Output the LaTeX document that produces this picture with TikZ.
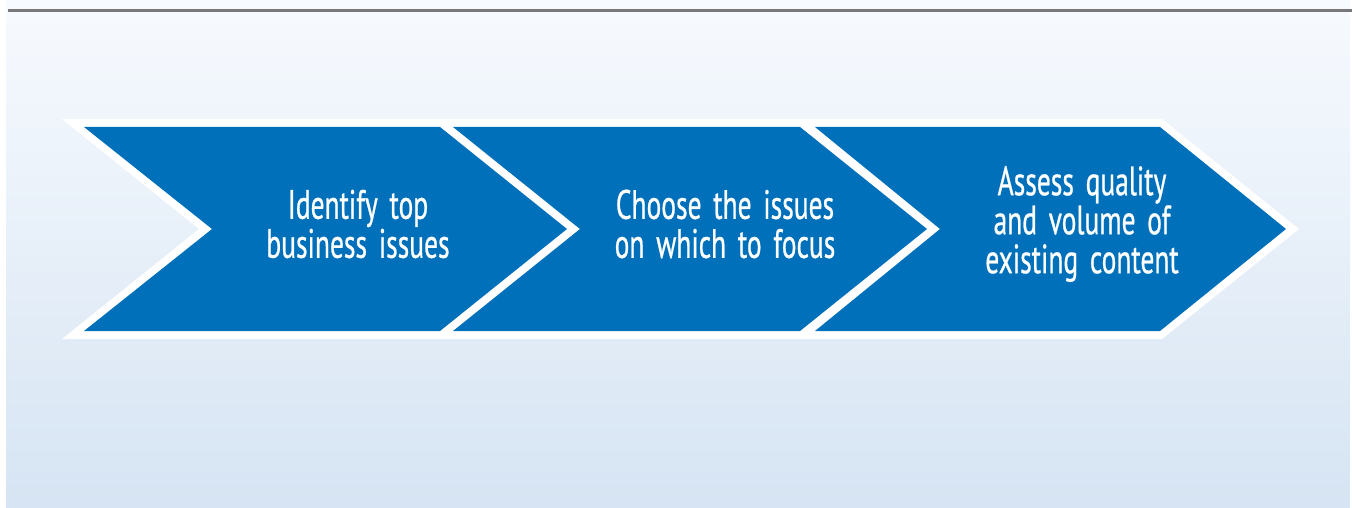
\documentclass[tikz,border=0pt]{standalone}
\usepackage{fontspec}
\newfontfamily\labelfont{PT Sans}[FakeStretch=0.67,WordSpace=1.6,FakeBold=0.6]
\definecolor{stepblue}{RGB}{0,112,186}
\definecolor{panelTop}{RGB}{247,250,254}
\definecolor{panelBottom}{RGB}{214,228,243}
\definecolor{ruleGray}{RGB}{120,120,122}
\tikzset{
  chevronfill/.style={fill=stepblue},
  steplabel/.style={text=white, align=center, font=\labelfont\fontsize{41}{39}\selectfont, inner sep=0pt}
}
\begin{document}
\begin{tikzpicture}[x=1pt,y=-1pt]
  \useasboundingbox (0,0) rectangle (1352,508);
  % backdrop panel with soft vertical gradient
  \shade[top color=panelTop, bottom color=panelBottom] (6,0) rectangle (1350,508);
  % header rule
  \fill[ruleGray] (8,9.3) rectangle (1352,12.3);
  % white outline of the whole arrow band
  \fill[white] (62,119) -- (1162,119) -- (1299,229) -- (1162,339) -- (62,339) -- (199,229) -- cycle;
  % three chevrons
  \fill[chevronfill] (84,127) -- (440,127) -- (567,229) -- (440,331) -- (84,331) -- (212,229) -- cycle;
  \fill[chevronfill] (453,127) -- (800,127) -- (927,229) -- (800,331) -- (453,331) -- (580,229) -- cycle;
  \fill[chevronfill] (815,127) -- (1160,127) -- (1286,229) -- (1160,331) -- (815,331) -- (940,229) -- cycle;
  % step labels
  \node[steplabel] (s1) at (358,224) {Identify top\\business issues};
  \node[steplabel] (s2) at (725,224) {Choose the issues\\on which to focus};
  \node[steplabel] (s3) at (1082,224) {Assess quality\\and volume of\\existing content};
\end{tikzpicture}
\end{document}
